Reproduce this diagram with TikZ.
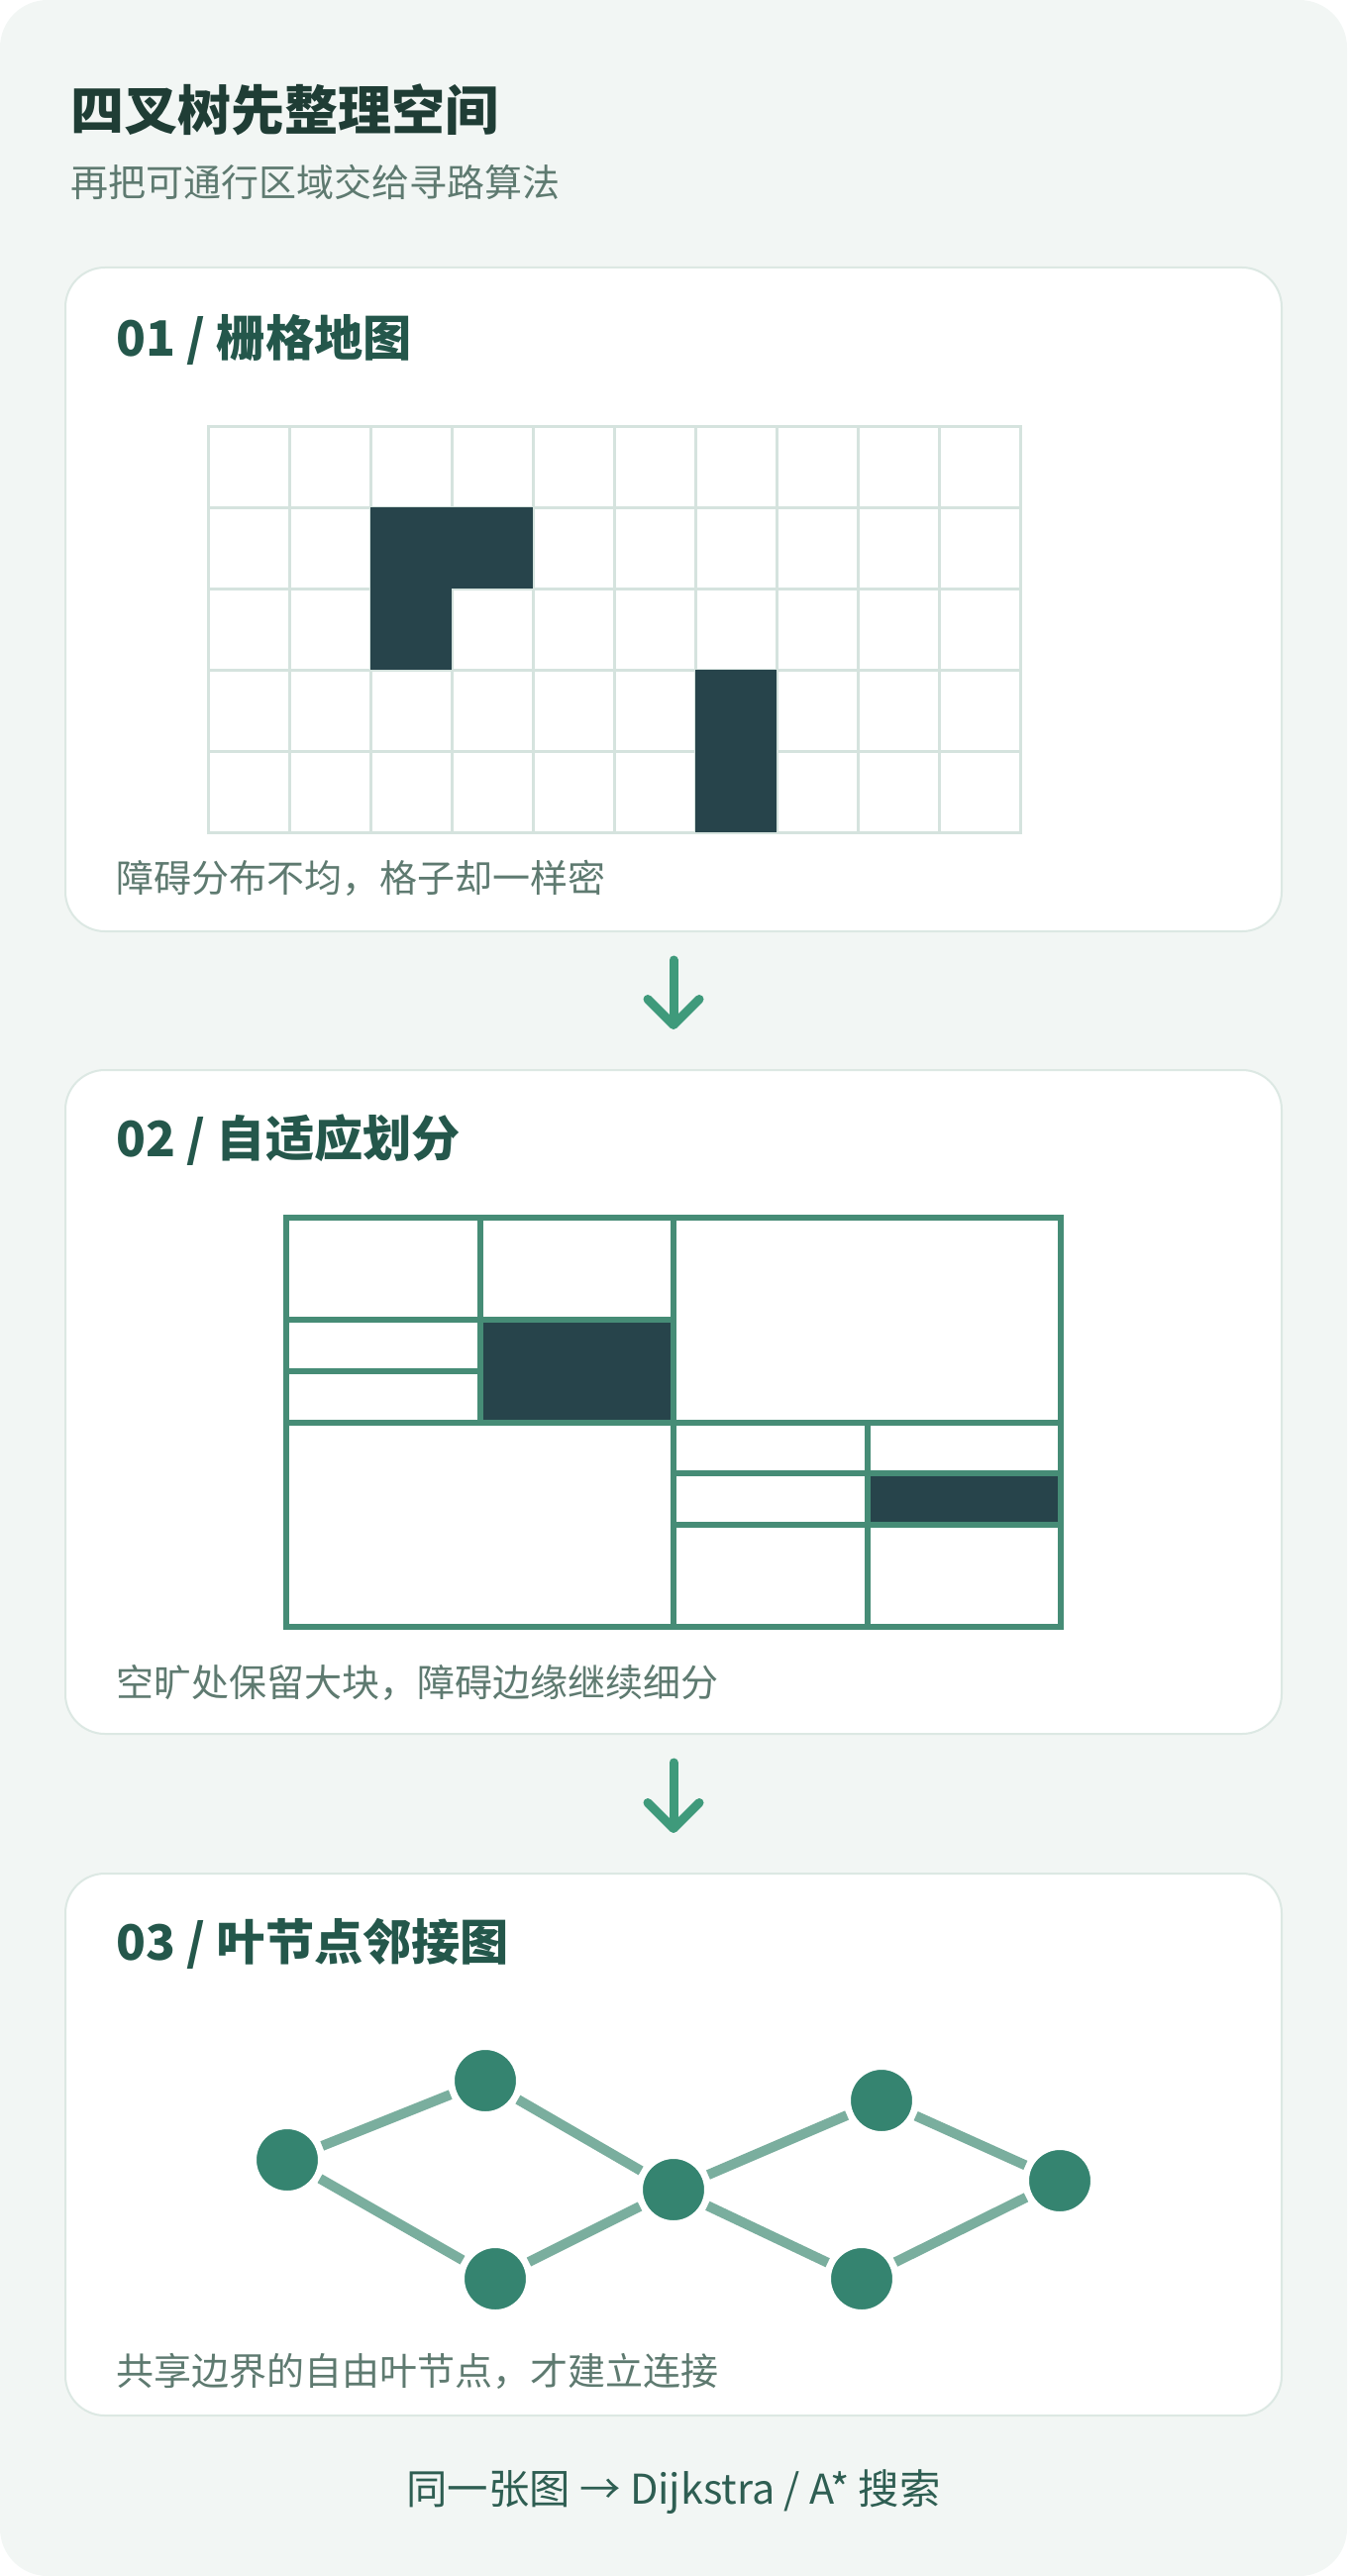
\documentclass[tikz,border=0pt]{standalone}
\usepackage{fontspec}
\setmainfont{Noto Sans CJK SC}
\usetikzlibrary{arrows.meta}
\definecolor{panelbg}{HTML}{F2F6F4}
\definecolor{cardline}{HTML}{DCE8E3}
\definecolor{titlecol}{HTML}{1F3D35}
\definecolor{headcol}{HTML}{24574B}
\definecolor{subcol}{HTML}{5E7A70}
\definecolor{gridcol}{HTML}{D5E3DE}
\definecolor{darkcell}{HTML}{27444B}
\definecolor{quadcol}{HTML}{468C76}
\definecolor{arrowcol}{HTML}{3F9A7B}
\definecolor{leafcol}{HTML}{358470}
\definecolor{linkcol}{HTML}{7AAE9E}
\definecolor{footcol}{HTML}{2E5E52}
\tikzset{
  card/.style={draw=cardline, line width=1pt, fill=white, rounded corners=20pt,
    minimum width=614pt, inner sep=0pt},
  titletext/.style={anchor=west, inner sep=0pt, text=titlecol,
    font=\bfseries\fontsize{27pt}{32pt}\selectfont},
  subtext/.style={anchor=west, inner sep=0pt, text=subcol,
    font=\fontsize{19pt}{23pt}\selectfont},
  headtext/.style={anchor=west, inner sep=0pt, text=headcol,
    font=\bfseries\fontsize{24.6pt}{29pt}\selectfont},
  foottext/.style={inner sep=0pt, text=footcol,
    font=\fontsize{20.7pt}{25pt}\selectfont},
  flow/.style={draw=arrowcol, line width=4.5pt, line cap=round,
    -{Straight Barb[length=13pt,width=26pt,round]},
    shorten <=14pt, shorten >=20pt},
  gridline/.style={draw=gridcol, line width=1.5pt, line cap=rect},
  obstacle/.style={fill=darkcell},
  quadline/.style={draw=quadcol, line width=3pt, line cap=rect},
  leaf/.style={circle, fill=leafcol, draw=white, line width=3.5pt,
    minimum size=34.5pt, inner sep=0pt},
  link/.style={draw=linkcol, line width=5pt}
}
\begin{document}
\begin{tikzpicture}[x=0.5pt, y=-0.5pt]
  \useasboundingbox (0,0) rectangle (1360,2600);
  % background
  \fill[panelbg, rounded corners=24pt] (0,0) rectangle (1360,2600);
  % title
  \node[titletext] (title) at (71,111) {四叉树先整理空间};
  \node[subtext] (subtitle) at (71,184) {再把可通行区域交给寻路算法};
  % cards
  \node[card, minimum height=335pt] (gridcard) at (680,605) {};
  \node[card, minimum height=335pt] (quadcard) at (680,1415) {};
  \node[card, minimum height=273.5pt] (graphcard) at (680,2164.5) {};
  \draw[flow] (gridcard.south) -- (quadcard.north);
  \draw[flow] (quadcard.south) -- (graphcard.north);
  % headings and captions
  \node[headtext] (head1) at (117,343) {01 / 栅格地图};
  \node[subtext] (cap1) at (117,886) {障碍分布不均，格子却一样密};
  \node[headtext] (head2) at (117,1151) {02 / 自适应划分};
  \node[subtext] (cap2) at (117,1698) {空旷处保留大块，障碍边缘继续细分};
  \node[headtext] (head3) at (117,1962) {03 / 叶节点邻接图};
  \node[subtext] (cap3) at (117,2393) {共享边界的自由叶节点，才建立连接};
  % grid map
  \foreach \i in {0,...,10}
    \draw[gridline] (210+82*\i,430) -- (210+82*\i,840);
  \foreach \j in {0,...,5}
    \draw[gridline] (210,430+82*\j) -- (1030,430+82*\j);
  \foreach \c/\r in {2/1,3/1,2/2,6/3,6/4}
    \fill[obstacle] (210+82*\c,430+82*\r) rectangle +(82,82);
  % quadtree cells
  \fill[obstacle] (484.5,1332.25) rectangle (680,1435.5);
  \fill[obstacle] (875.5,1487.1) rectangle (1071,1538.75);
  \draw[quadline] (289,1229) rectangle (1071,1642);
  \draw[quadline] (680,1229) -- (680,1642);
  \draw[quadline] (289,1435.5) -- (1071,1435.5);
  \draw[quadline] (484.5,1229) -- (484.5,1435.5);
  \draw[quadline] (289,1332.25) -- (680,1332.25);
  \draw[quadline] (289,1383.9) -- (484.5,1383.9);
  \draw[quadline] (875.5,1435.5) -- (875.5,1642);
  \draw[quadline] (680,1538.75) -- (1071,1538.75);
  \draw[quadline] (680,1487.1) -- (1071,1487.1);
  % leaf graph
  \foreach \n/\x/\y in {la/290/2180, lb/490/2100, lc/500/2300, ld/680/2210,
                        le/890/2120, lf/870/2300, lg/1070/2201}
    \node[leaf] (\n) at (\x,\y) {};
  \foreach \u/\v in {la/lb, la/lc, lb/ld, lc/ld, ld/le, ld/lf, le/lg, lf/lg}
    \draw[link] (\u) -- (\v);
  % footer
  \node[foottext] (footer) at (680,2515) {同一张图 → Dijkstra / A* 搜索};
\end{tikzpicture}
\end{document}
